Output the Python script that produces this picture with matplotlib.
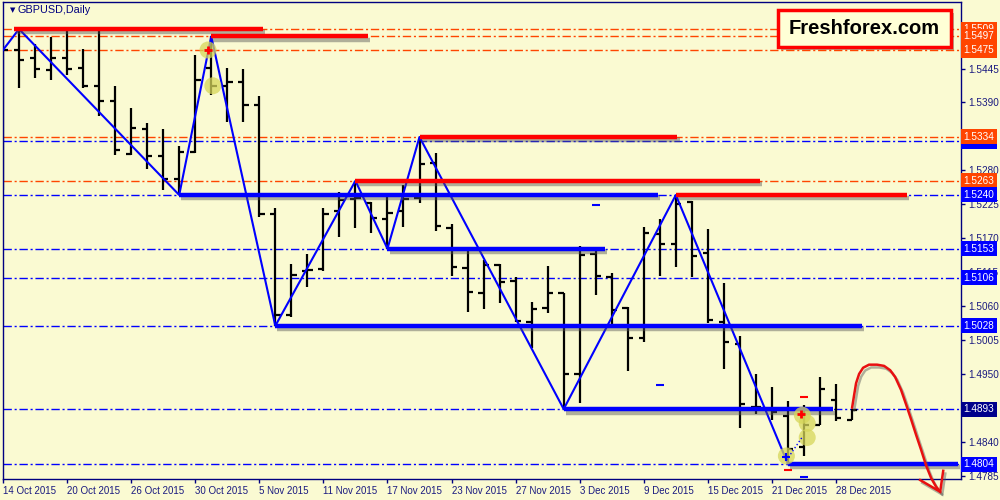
import numpy as np
import matplotlib
matplotlib.use('Agg')
import matplotlib.pyplot as plt
import matplotlib.patches as mpatches
import matplotlib.patheffects as pe
from matplotlib import transforms

plt.rcParams['font.family'] = ['Liberation Sans', 'DejaVu Sans']

# GBPUSD daily bars, 14 Oct 2015 .. 29 Dec 2015 (bar index 0..53)
opens = [1.5256, 1.5475, 1.5462, 1.5443, 1.5462, 1.5446, 1.5417, 1.5392, 1.5306, 1.5347,
         1.5303, 1.5266, 1.5310, 1.5446, 1.5417, 1.5423, 1.5386, 1.5209, 1.5045, 1.5117,
         1.5120, 1.5214, 1.5233, 1.5227, 1.5201, 1.5214, 1.5235, 1.5292, 1.5187, 1.5122,
         1.5081, 1.5127, 1.5101, 1.5034, 1.5057, 1.5081, 1.4950, 1.5144, 1.5107, 1.5057,
         1.5009, 1.5177, 1.5160, 1.5229, 1.5146, 1.5034, 1.4998, 1.4896, 1.4891, 1.4882,
         1.4831, 1.4867, 1.4908, 1.4876]
highs = [1.5491, 1.5509, 1.5485, 1.5496, 1.5506, 1.5477, 1.5509, 1.5417, 1.5381, 1.5357,
         1.5347, 1.5319, 1.5467, 1.5497, 1.5446, 1.5444, 1.5400, 1.5219, 1.5128, 1.5144,
         1.5219, 1.5245, 1.5263, 1.5229, 1.5237, 1.5256, 1.5334, 1.5308, 1.5193, 1.5151,
         1.5135, 1.5128, 1.5107, 1.5067, 1.5125, 1.5081, 1.5157, 1.5153, 1.5113, 1.5058,
         1.5188, 1.5201, 1.5240, 1.5230, 1.5185, 1.5098, 1.5011, 1.4950, 1.4929, 1.4906,
         1.4900, 1.4945, 1.4934, 1.4893]
lows = [1.5248, 1.5413, 1.5430, 1.5426, 1.5434, 1.5413, 1.5368, 1.5305, 1.5305, 1.5282,
        1.5248, 1.5240, 1.5308, 1.5402, 1.5358, 1.5358, 1.5204, 1.5028, 1.5042, 1.5091,
        1.5117, 1.5172, 1.5187, 1.5178, 1.5153, 1.5188, 1.5227, 1.5182, 1.5109, 1.5051,
        1.5056, 1.5065, 1.5034, 1.4992, 1.5049, 1.4893, 1.4903, 1.5078, 1.5028, 1.4955,
        1.5002, 1.5109, 1.5123, 1.5107, 1.5032, 1.4958, 1.4862, 1.4885, 1.4876, 1.4804,
        1.4817, 1.4867, 1.4874, 1.4876]
closes = [1.5475, 1.5459, 1.5444, 1.5462, 1.5444, 1.5417, 1.5392, 1.5313, 1.5349, 1.5303,
          1.5266, 1.5310, 1.5426, 1.5417, 1.5423, 1.5386, 1.5209, 1.5045, 1.5110, 1.5118,
          1.5209, 1.5232, 1.5235, 1.5203, 1.5211, 1.5233, 1.5290, 1.5190, 1.5123, 1.5083,
          1.5127, 1.5099, 1.5036, 1.5056, 1.5081, 1.4950, 1.5143, 1.5109, 1.5054, 1.5008,
          1.5178, 1.5160, 1.5225, 1.5141, 1.5037, 1.5002, 1.4901, 1.4896, 1.4888, 1.4829,
          1.4867, 1.4926, 1.4879, 1.4891]

date_idx = [0, 4, 8, 12, 16, 20, 24, 28, 32, 36, 40, 44, 48, 52]
date_labels = ['14 Oct 2015', '20 Oct 2015', '26 Oct 2015', '30 Oct 2015', '5 Nov 2015',
               '11 Nov 2015', '17 Nov 2015', '23 Nov 2015', '27 Nov 2015', '3 Dec 2015',
               '9 Dec 2015', '15 Dec 2015', '21 Dec 2015', '28 Dec 2015']
# visible price scale labels (the rest sit under the level boxes)
price_ticks = [1.4785, 1.4840, 1.4950, 1.5005, 1.5060, 1.5115, 1.5170, 1.5225,
               1.5280, 1.5390, 1.5445]

# zigzag pivots
zz_idx = [0, 1, 11, 13, 17, 22, 24, 26, 35, 42, 49]
zz_px = [1.5475, 1.5509, 1.5240, 1.5497, 1.5028, 1.5263, 1.5153, 1.5334, 1.4893, 1.5240, 1.4804]

# support / resistance levels
res_levels = [1.5509, 1.5497, 1.5475, 1.5334, 1.5263]
sup_levels = [1.5327, 1.5240, 1.5153, 1.5106, 1.5028, 1.4893, 1.4804]
res_seg = [(1.5509, 0.7, 16.25), (1.5497, 13, 22.8), (1.5334, 26, 42.1),
           (1.5263, 22, 47.25), (1.5240, 42, 56.4)]
sup_seg = [(1.5240, 11, 40.9), (1.5153, 24, 37.6), (1.5028, 17, 53.6),
           (1.4893, 35, 51.8), (1.4804, 49, 59.6)]

# hand drawn forecast arrow
fc_x = [53.0, 53.13, 53.25, 53.44, 53.69, 54.06, 54.56, 55.0, 55.38, 55.69, 56.06, 56.38,
        56.69, 57.0, 57.31, 57.63, 57.94, 58.25, 58.5]
fc_y = [1.4895, 1.4916, 1.4935, 1.4950, 1.4960, 1.4965, 1.4965, 1.4963, 1.4956, 1.4945,
        1.4924, 1.4900, 1.4876, 1.4851, 1.4827, 1.4801, 1.4781, 1.4767, 1.4759]
head_x = [57.25, 58.5, 58.69]
head_y = [1.4778, 1.4759, 1.4793]

# trade marks
circ_x = [12.8, 13.1, 48.9, 49.9, 50.2, 50.2]
circ_y = [1.5475, 1.5417, 1.4817, 1.4883, 1.4870, 1.4847]

bg = '#FAFAD2'
navy = '#000080'
ored = '#FF4500'
blue = '#0000FF'

fig = plt.figure(figsize=(10, 5), dpi=100, facecolor=bg)
ax = fig.add_axes([0.0025, 0.042, 0.9585, 0.954])
ax.set_facecolor(bg)

idx = np.arange(len(opens))
ax.set_xlim(-0.03, 59.8)
ax.set_ylim(1.47797, 1.55528)

dd = (0, (6, 2, 1.5, 2))
for lv in res_levels:
    ax.axhline(lv, color=ored, lw=1, linestyle=dd, zorder=1)
for lv in sup_levels:
    ax.axhline(lv, color=blue, lw=1, linestyle=dd, zorder=1)

# OHLC bars
ax.vlines(idx, lows, highs, color='black', lw=1.6, zorder=2)
ax.hlines(opens, idx - 0.33, idx, color='black', lw=1.6, zorder=2)
ax.hlines(closes, idx, idx + 0.33, color='black', lw=1.6, zorder=2)

ax.plot(zz_idx, zz_px, color=blue, lw=1.5, zorder=3)

shadow = [pe.SimpleLineShadow(offset=(1.5, -2.5), shadow_color='#555555', alpha=0.45),
          pe.Normal()]
for lv, x0, x1 in res_seg:
    ax.plot([x0, x1], [lv, lv], color='#FF0000', lw=3.2, zorder=4,
            solid_capstyle='butt', path_effects=shadow)
for lv, x0, x1 in sup_seg:
    ax.plot([x0, x1], [lv, lv], color=blue, lw=3.2, zorder=4,
            solid_capstyle='butt', path_effects=shadow, clip_on=False)

# marks
ax.scatter(circ_x, circ_y, s=150, color='#D6D65A', alpha=0.75, edgecolors='none', zorder=5)
ax.plot([12.8, 49.8], [1.5475, 1.4885], '+', color='#FF0000', ms=6, mew=2, zorder=6)
ax.plot([48.9], [1.4815], '+', color=blue, ms=6, mew=1.5, zorder=6)
ax.plot([50, 49], [1.4913, 1.4794], '_', color='#FF0000', ms=6, mew=1.5, zorder=6)
ax.plot([37, 41, 50], [1.5224, 1.4932, 1.4783], '_', color=blue, ms=6, mew=1.5, zorder=6)
ax.plot([48.9, 49.9], [1.4810, 1.4848], color=blue, lw=1, ls=':', zorder=5)

red_shadow = [pe.SimpleLineShadow(offset=(1.5, -2), shadow_color='#555555', alpha=0.45),
              pe.Normal()]
ax.plot(fc_x, fc_y, color='#E81010', lw=1.8, zorder=7, clip_on=False,
        path_effects=red_shadow, solid_capstyle='round')
ax.plot(head_x, head_y, color='#E81010', lw=1.8, zorder=7, clip_on=False,
        path_effects=red_shadow, solid_joinstyle='miter')

# axes styling
for sp in ax.spines.values():
    sp.set_color(navy)
    sp.set_linewidth(1)
ax.yaxis.tick_right()
ax.set_yticks(price_ticks)
ax.set_yticklabels(['%.4f' % v for v in price_ticks])
ax.set_xticks(date_idx)
ax.set_xticklabels(date_labels)
for lab in ax.get_xticklabels():
    lab.set_ha('left')
ax.tick_params(axis='both', colors=navy, labelcolor='#1a1a80', labelsize=7,
               length=3, width=1, direction='out')
ax.tick_params(axis='y', labelsize=7.2, pad=2)
ax.tick_params(axis='x', pad=2)

lab_tr = transforms.blended_transform_factory(ax.transAxes, ax.transData)
box_levels = [(1.5509, ored), (1.5497, ored), (1.5475, ored), (1.5327, blue), (1.5334, ored),
              (1.5263, ored), (1.5240, blue), (1.5153, blue), (1.5106, blue), (1.5028, blue),
              (1.4893, '#00008B'), (1.4804, blue)]
for lv, c in box_levels:
    ax.text(1.0025, lv, '%.4f' % lv, transform=lab_tr, ha='left', va='center',
            color='white', fontsize=7.2, clip_on=False, zorder=10,
            bbox=dict(boxstyle='square,pad=0.25', fc=c, ec='none'))

# title
fig.text(0.010, 0.980, '\u25BC', fontsize=5, color=navy, va='center', family='DejaVu Sans')
fig.text(0.018, 0.980, 'GBPUSD,Daily', fontsize=7.8, color=navy, va='center')

# logo box
logo = mpatches.Rectangle((0.778, 1 - 47 / 500), 0.173, 37 / 500, transform=fig.transFigure,
                          fc='#FFFFD6', ec='#FF0000', lw=2.5, zorder=8,
                          path_effects=[pe.SimplePatchShadow(offset=(2, -2), alpha=0.4),
                                        pe.Normal()])
fig.patches.append(logo)
fig.text(0.8645, 1 - 29 / 500, 'Freshforex.com', fontsize=14.5, fontweight='bold',
         color='black', ha='center', va='center', zorder=9)

fig.savefig('out.png', dpi=100, facecolor=bg)
